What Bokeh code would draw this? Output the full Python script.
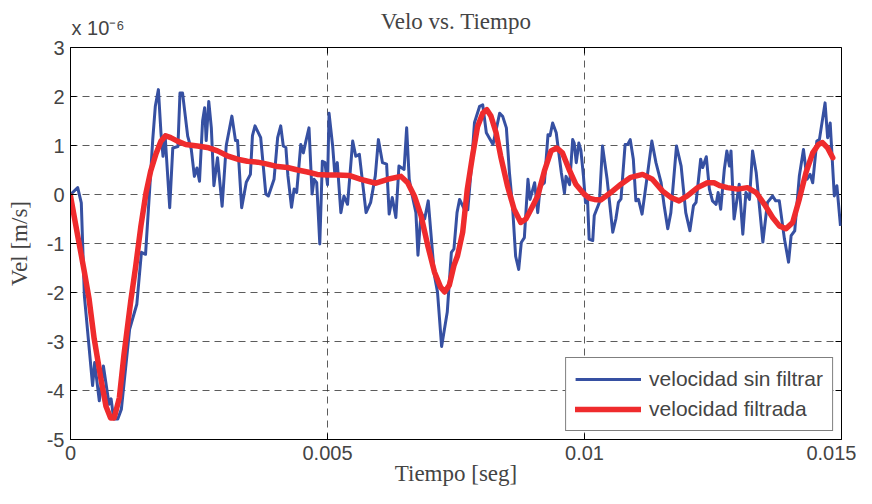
import numpy as np
from bokeh.plotting import figure
from bokeh.models import Range1d, LinearAxis, FixedTicker
from bokeh.embed import file_html
from bokeh.resources import INLINE

# ---- data (time in ms, velocity in units of 1e-6 m/s) ----
t_sin_ms = [0.0, 0.14, 0.21, 0.27, 0.43, 0.47, 0.56, 0.64, 0.75, 0.79, 0.84, 0.92, 0.99,
            1.15, 1.29, 1.38, 1.46, 1.54, 1.60, 1.65, 1.71, 1.76, 1.80, 1.84, 1.93, 1.99,
            2.09, 2.13, 2.18, 2.28, 2.35, 2.41, 2.46, 2.51, 2.57, 2.61, 2.64, 2.69, 2.74,
            2.79, 2.86, 2.95, 3.03, 3.14, 3.21, 3.25, 3.33, 3.42, 3.50, 3.54, 3.59, 3.70,
            3.80, 3.85, 3.96, 4.03, 4.09, 4.14, 4.19, 4.23, 4.30, 4.35, 4.40, 4.48, 4.53,
            4.58, 4.64, 4.70, 4.74, 4.79, 4.85, 4.90, 4.95, 5.00, 5.03, 5.10, 5.14, 5.19,
            5.26, 5.32, 5.39, 5.49, 5.55, 5.62, 5.75, 5.84, 5.93, 5.99, 6.07, 6.15, 6.20,
            6.26, 6.33, 6.39, 6.49, 6.54, 6.59, 6.65, 6.72, 6.76, 6.82, 6.89, 6.96, 7.08,
            7.14, 7.22, 7.33, 7.41, 7.46, 7.52, 7.57, 7.66, 7.73, 7.80, 7.86, 7.96, 8.02,
            8.09, 8.22, 8.28, 8.35, 8.41, 8.48, 8.54, 8.60, 8.66, 8.72, 8.77, 8.83, 8.90,
            8.94, 9.03, 9.09, 9.14, 9.22, 9.29, 9.33, 9.38, 9.45, 9.55, 9.61, 9.64, 9.71,
            9.77, 9.80, 9.84, 9.89, 9.93, 9.98, 10.02, 10.06, 10.09, 10.16, 10.19, 10.29,
            10.35, 10.44, 10.55, 10.61, 10.66, 10.71, 10.79, 10.84, 10.89, 10.95, 11.00,
            11.05, 11.12, 11.23, 11.31, 11.39, 11.49, 11.55, 11.62, 11.68, 11.79, 11.88,
            11.97, 12.05, 12.12, 12.17, 12.26, 12.30, 12.37, 12.43, 12.49, 12.56, 12.60,
            12.65, 12.72, 12.77, 12.82, 12.85, 12.91, 13.01, 13.08, 13.14, 13.21, 13.27,
            13.34, 13.47, 13.56, 13.66, 13.72, 13.79, 13.89, 13.97, 14.02, 14.09, 14.18,
            14.26, 14.33, 14.39, 14.44, 14.52, 14.57, 14.68, 14.73, 14.78, 14.86, 14.91,
            14.98]
vel_sin_e6 = [0.0, 0.14, -0.17, -2.07, -3.9, -3.43, -4.21, -3.5, -4.28, -4.17, -4.58, -4.58, -4.38,
              -2.75, -2.24, -1.18, -1.22, 0.1, 1.12, 1.8, 2.14, 1.26, 0.78, 1.22, -0.27, 0.95,
              0.98, 2.07, 2.07, 1.19, 0.92, 0.37, 0.54, 0.27, 1.5, 1.77, 1.1, 1.9, 1.36,
              0.18, 0.75, -0.24, 1.0, 1.6, 1.1, 1.1, -0.27, 0.25, 0.41, 1.2, 1.4, 1.16,
              0.01, -0.03, 0.31, 1.16, 1.4, 0.99, 0.96, 0.38, -0.26, 0.11, 0.04, 1.02, 0.85,
              1.09, 1.36, 0.01, 0.31, 0.24, -1.01, 0.68, 0.65, 0.2, 1.66, 0.99, 0.45, 0.65,
              -0.37, -0.03, -0.2, 1.09, 0.78, 0.82, -0.37, -0.16, 0.38, 1.12, 0.65, 0.62, -0.4,
              -0.06, -0.47, 0.58, 0.51, 1.36, 0.31, -0.03, -0.37, -1.24, -0.37, -0.5, -0.13, -1.65,
              -1.99, -3.1, -2.4, -1.18, -1.11, -0.37, -0.1, -0.3, -0.31, 0.58, 1.47, 1.8, 1.83,
              1.26, 1.02, 1.32, 1.66, 1.59, 1.36, 0.44, -0.24, -1.26, -1.53, -0.98, -0.88, 0.31,
              -0.1, 0.24, -0.37, 0.17, 0.24, 1.22, 1.2, 1.46, 1.26, 0.44, 0.03, 0.37, 0.2,
              1.12, 1.05, 0.65, 1.05, 0.9, 0.37, -0.17, -0.13, -0.91, -0.94, -0.43, -0.16,
              0.99, 0.31, -0.77, -0.5, -0.16, -0.09, 1.02, 1.02, 1.12, 0.72, -0.13,
              -0.1, -0.4, 0.45, 1.09, 0.65, 0.24, -0.23, -0.7, -0.37, 0.99, 0.58,
              -0.37, -0.74, -0.23, -0.16, 0.72, 0.55, 0.77, 0.11, -0.13, -0.2, 0.04,
              -0.3, 0.51, 0.89, 0.58, 0.89, -0.5, 0.21, -0.81, 0.04, -0.1, 0.89,
              0.45, -0.97, -0.16, -0.03, -0.13, -0.13, -0.91, -1.38, -0.84, -0.74, 0.38,
              0.92, 0.31, 0.41, 0.24, 1.09, 1.12, 1.87, 1.16, 1.46, -0.03, 0.18,
              -0.64]

t_filt_ms = [0.0, 0.14, 0.27, 0.36, 0.46, 0.59, 0.69, 0.78, 0.85, 0.95, 1.04, 1.17, 1.27,
             1.37, 1.47, 1.56, 1.66, 1.76, 1.85, 1.95, 2.08, 2.24, 2.47, 2.66, 2.86, 3.05,
             3.25, 3.44, 3.64, 3.83, 4.03, 4.22, 4.42, 4.61, 4.80, 5.00, 5.19, 5.42, 5.65,
             5.94, 6.17, 6.43, 6.56, 6.69, 6.82, 6.95, 7.08, 7.20, 7.28, 7.37, 7.46, 7.53,
             7.63, 7.72, 7.82, 7.92, 8.02, 8.10, 8.18, 8.28, 8.37, 8.50, 8.63, 8.76, 8.86,
             8.96, 9.09, 9.22, 9.35, 9.46, 9.57, 9.70, 9.83, 9.99, 10.10, 10.19, 10.32, 10.51,
             10.71, 10.90, 11.13, 11.32, 11.52, 11.68, 11.84, 12.00, 12.20, 12.39, 12.52,
             12.63, 12.78, 12.98, 13.17, 13.34, 13.50, 13.66, 13.79, 13.92, 14.05, 14.18,
             14.31, 14.44, 14.55, 14.63, 14.73, 14.83]
vel_filt_e6 = [-0.03, -0.84, -1.58, -2.12, -2.94, -3.75, -4.32, -4.56, -4.56, -4.15, -3.27, -2.19, -1.45,
               -0.64, 0.04, 0.48, 0.82, 1.09, 1.2, 1.16, 1.09, 1.02, 0.99, 0.96, 0.89, 0.79,
               0.72, 0.68, 0.66, 0.62, 0.57, 0.55, 0.5, 0.46, 0.41, 0.4, 0.4, 0.39, 0.31,
               0.23, 0.31, 0.37, 0.24, -0.03, -0.43, -1.04, -1.58, -1.89, -1.99, -1.85, -1.45, -1.25,
               -0.77, 0.11, 0.78, 1.39, 1.66, 1.73, 1.6, 1.26, 0.78, 0.18, -0.3, -0.57, -0.5,
               -0.3, -0.03, 0.48, 0.89, 0.95, 0.85, 0.51, 0.21, 0.01, -0.08, -0.1, -0.11, 0.04,
               0.21, 0.35, 0.41, 0.31, 0.07, -0.06, -0.13, -0.03, 0.14, 0.24, 0.24,
               0.18, 0.14, 0.11, 0.14, 0.04, -0.2, -0.47, -0.64, -0.7, -0.57, -0.09,
               0.45, 0.85, 1.02, 1.06, 0.95, 0.75]

x_ticks = [0.0, 0.005, 0.01, 0.015]
x_tick_labels = ["0", "0.005", "0.01", "0.015"]
y_ticks = [-5, -4, -3, -2, -1, 0, 1, 2, 3]
y_tick_labels = ["-5", "-4", "-3", "-2", "-1", "0", "1", "2", "3"]
title_text = "Velo vs. Tiempo"
multiplier_text = "x 10\u207b\u2076"

t_sin = np.array(t_sin_ms) * 1e-3
t_filt = np.array(t_filt_ms) * 1e-3

SERIF = "Liberation Serif"
SANS = "Liberation Sans"

x_rng = Range1d(0, 0.015)
y_rng = Range1d(-5, 3)
FRAME_W = 771

p = figure(width=856, height=488, output_backend="svg", toolbar_location=None,
           x_range=x_rng, y_range=y_rng, title=None,
           min_border_left=70, min_border_right=856 - 70 - FRAME_W,
           min_border_top=47, min_border_bottom=48)
p.background_fill_color = "white"
p.border_fill_color = "white"
p.outline_line_color = "black"
p.outline_line_width = 1

for ax in (p.xaxis[0], p.yaxis[0]):
    ax.axis_label_text_font = SERIF
    ax.axis_label_text_font_style = "normal"
    ax.axis_label_text_font_size = "23px"
    ax.major_label_text_font = SANS
    ax.major_label_text_font_size = "20px"
    ax.major_tick_in = 6
    ax.major_tick_out = 0
    ax.minor_tick_line_color = None
    ax.axis_line_color = "black"
    ax.major_tick_line_color = "black"

p.xaxis[0].axis_label = "Tiempo [seg]"
p.xaxis[0].ticker = FixedTicker(ticks=x_ticks)
p.xaxis[0].major_label_overrides = dict(zip(x_ticks, x_tick_labels))
p.xaxis[0].major_label_standoff = 6
p.xaxis[0].axis_label_standoff = -2

p.yaxis[0].axis_label = "Vel [m/s]"
p.yaxis[0].ticker = FixedTicker(ticks=y_ticks)
p.yaxis[0].major_label_overrides = dict(zip(y_ticks, y_tick_labels))
p.yaxis[0].major_label_standoff = 6
p.yaxis[0].axis_label_standoff = 12

# top axis: carries the exponent note (as a tick label) and the title (as axis label)
p.extra_x_ranges = {"frame_px": Range1d(0, FRAME_W)}
top_ax = LinearAxis(x_range_name="frame_px", ticker=FixedTicker(ticks=[27.5]),
                    major_label_overrides={27.5: multiplier_text},
                    major_tick_line_color=None, minor_tick_line_color=None,
                    axis_line_color=None, major_tick_out=0, major_tick_in=0,
                    major_label_standoff=9, major_label_text_font=SANS,
                    major_label_text_font_size="20px",
                    axis_label=title_text, axis_label_text_font=SERIF,
                    axis_label_text_font_style="normal", axis_label_text_font_size="23px",
                    axis_label_standoff=-20)
p.add_layout(top_ax, "above")

p.xgrid.ticker = FixedTicker(ticks=x_ticks)
p.ygrid.ticker = FixedTicker(ticks=y_ticks)
for g in (p.xgrid[0], p.ygrid[0]):
    g.grid_line_color = "#333333"
    g.grid_line_alpha = 0.8
    g.grid_line_dash = "7 5"
    g.grid_line_width = 1

# inward tick marks on the top and right edges of the box (clipped to the frame)
p.scatter(x=x_ticks, y=[y_rng.end] * len(x_ticks), marker="dash", angle=np.pi / 2,
          size=12, line_color="black", line_width=1)
p.scatter(x=[x_rng.end] * len(y_ticks), y=y_ticks, marker="dash",
          size=12, line_color="black", line_width=1)

p.line(t_sin, vel_sin_e6, line_color="#3650a2", line_width=3, line_join="round",
       legend_label="velocidad sin filtrar")
p.line(t_filt, vel_filt_e6, line_color="#ef2b2d", line_width=5.5, line_join="round",
       line_cap="round", legend_label="velocidad filtrada")

lg = p.legend[0]
lg.location = "bottom_right"
lg.margin = 8
lg.padding = 9
lg.spacing = 6
lg.glyph_width = 66
lg.glyph_height = 24
lg.label_standoff = 8
lg.label_text_font = SANS
lg.label_text_font_size = "21px"
lg.border_line_color = "black"
lg.border_line_width = 1
lg.background_fill_color = "white"
lg.background_fill_alpha = 1

open("out.html", "w").write(file_html(p, INLINE))
